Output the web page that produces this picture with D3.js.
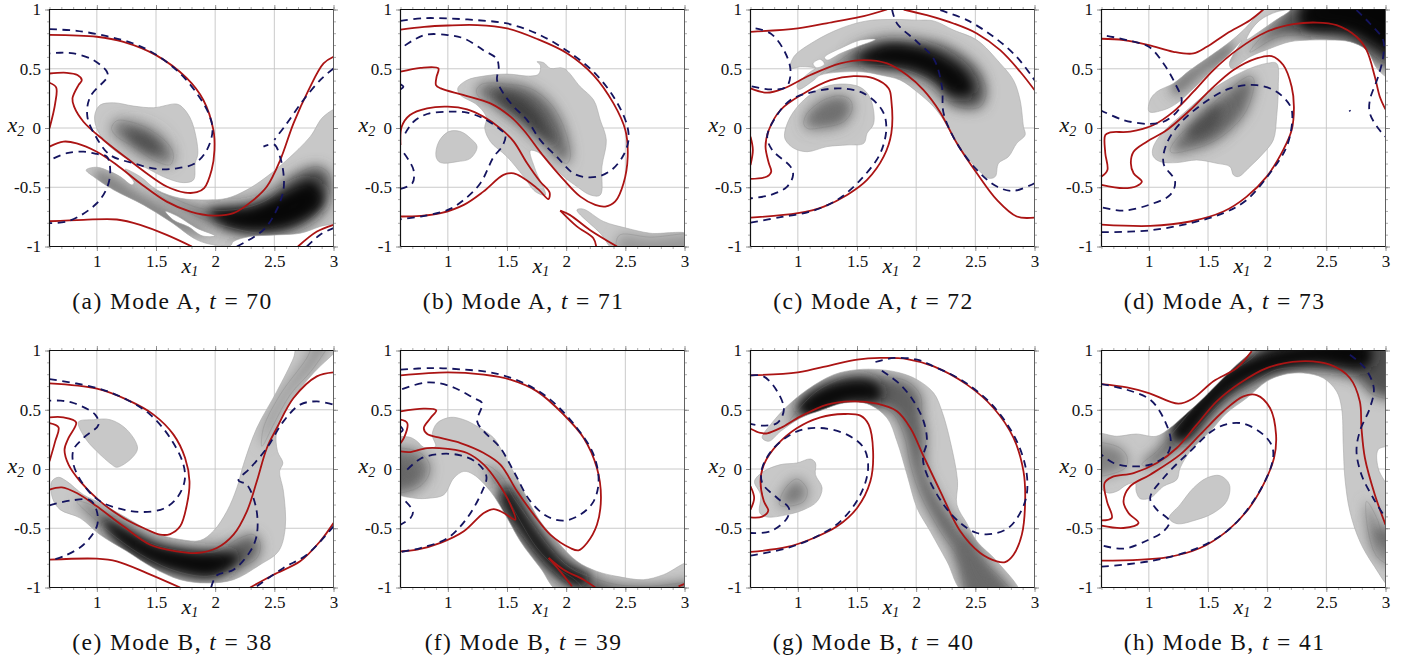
<!DOCTYPE html>
<html>
<head>
<meta charset="utf-8">
<script src="https://cdn.jsdelivr.net/npm/d3@7"></script>
<style>
	html, body { margin: 0; padding: 0; background: #fff; }
	svg { display: block; }
	text { font-family: 'Liberation Serif', serif; fill: #111; }
</style>
</head>
<body>
<div id="chart"></div>
<script>
// Axis values
const xMajor = [1, 1.5, 2, 2.5, 3]
const yMajor = [-1, -0.5, 0, 0.5, 1]
const xMinor = d3.range(6, 31).map((d) => d / 10)
const yMinor = d3.range(-10, 11).map((d) => d / 10)

// (a) Mode A, t = 70
const redA70 = [
	[[.6,.786],[1,.77],[1.225,.727],[1.5,.615],[1.76,.42],[1.9,.236],[1.985,-.017],[1.994,-.185],[1.97,-.354],[1.907,-.508],[1.845,-.542],[1.746,-.545],[1.59,-.494],[1.42,-.382],[1.254,-.256],[1.056,-.101],[.887,.053],[.808,.18],[.794,.25],[.845,.362],[.873,.404],[.836,.447],[.746,.466],[.6,.46]],
	[[.6,.382],[.656,.343],[.648,.208],[.6,-.003]],
	[[.6,-.157],[.718,-.115],[.83,-.129],[1,-.2],[1.169,-.312],[1.366,-.466],[1.59,-.621],[1.79,-.705],[1.986,-.739],[2.155,-.719],[2.324,-.607],[2.437,-.494],[2.55,-.27],[2.662,.039],[2.789,.32],[2.916,.545],[3,.601]],
	[[.6,-.787],[.887,-.775],[1.169,-.772],[1.366,-.817],[1.59,-.902],[1.803,-1]],
	[[2.7,-1],[2.86,-.874],[3,-.817]],
]
const blueA70 = [
	[[.6,.834],[.83,.82],[1.085,.775],[1.31,.713],[1.507,.615],[1.704,.46],[1.845,.292],[1.944,.124],[1.978,-.017],[1.93,-.185],[1.83,-.298],[1.676,-.34],[1.507,-.346],[1.31,-.298],[1.113,-.228],[1,-.087],[.92,.096],[.944,.264],[1.09,.433],[1.085,.475],[.972,.573],[.803,.629],[.69,.635],[.6,.629]],
	[[.634,-.256],[.746,-.213],[.887,-.2],[1,-.219],[1.085,-.242],[1.113,-.354],[1.09,-.494],[1,-.635],[.775,-.781],[.6,-.803]],
	[[2.183,-1],[2.408,-.86],[2.52,-.69],[2.577,-.522],[2.577,-.382],[2.55,-.25],[2.5,-.14],[2.408,-.157]],
	[[3,.503],[2.887,.404],[2.746,.236],[2.606,.039],[2.5,-.1]],
	[[2.775,-1],[2.887,-.9],[3,-.845]],
]
const edgeA70 = [
	[[.986,.124],[1.028,.194],[1.141,.213],[1.31,.185],[1.479,.171],[1.676,.202],[1.732,.166],[1.803,.053],[1.854,-.213],[1.831,-.298],[1.817,-.438],[1.732,-.461],[1.592,-.424],[1.423,-.34],[1.225,-.242],[1.056,-.101],[.986,.039]],
	[[.91,-.354],[1,-.331],[1.113,-.368],[1.197,-.41],[1.296,-.48],[1.315,-.461],[1.268,-.396],[1.239,-.348],[1.366,-.41],[1.507,-.522],[1.704,-.593],[1.93,-.607],[2.099,-.593],[2.268,-.522],[2.437,-.41],[2.606,-.27],[2.803,-.073],[2.915,.096],[3.05,.16],[3.05,-.77],[2.887,-.831],[2.718,-.888],[2.521,-.902],[2.296,-.916],[2.155,-.958],[2.127,-.994],[1.986,-.986],[1.845,-.944],[1.62,-.789],[1.394,-.649],[1.141,-.522],[.972,-.41]],
]
const holeA70 = [
	[[1.58,-.704],[1.676,-.741],[1.845,-.845],[2,-.91],[1.89,-.91],[1.775,-.834],[1.648,-.777]],
]
const midA70 = [
	[.32, [[1.127,.011],[1.169,.062],[1.31,.045],[1.479,-.031],[1.62,-.157],[1.648,-.242],[1.62,-.31],[1.479,-.27],[1.31,-.157],[1.169,-.073],[1.127,-.017]]],
	[.5, [[1.49,-.53],[1.873,-.677],[2.155,-.69],[2.437,-.607],[2.662,-.41],[2.859,-.326],[2.958,-.382],[2.958,-.579],[2.831,-.747],[2.634,-.86],[2.38,-.888],[2.099,-.833],[1.873,-.76],[1.592,-.607]]],
]
const coreA70 = [
	[.55, [[1.25,-.02],[1.45,-.08],[1.55,-.2],[1.45,-.2],[1.3,-.11]]],
	[1, [[1.95,-.7],[2.3,-.68],[2.6,-.56],[2.82,-.46],[2.9,-.63],[2.7,-.78],[2.4,-.85],[2.1,-.82]]],
	[.3, [[1,-.36],[1.35,-.56],[1.7,-.76],[1.95,-.9],[1.7,-.86],[1.35,-.66],[1,-.44]]],
]

// (b) Mode A, t = 71
const redA71 = [
	[[.6,.83],[.8,.854],[1,.865],[1.25,.868],[1.5,.84],[1.75,.753],[2.01,.629],[2.23,.447],[2.4,.208],[2.5,-.017],[2.52,-.24],[2.485,-.466],[2.415,-.62],[2.33,-.663],[2.246,-.649],[2.12,-.579],[1.98,-.438],[1.81,-.24],[1.64,-.017],[1.53,.096],[1.36,.208],[1.135,.278],[.94,.334],[.9,.362],[.905,.433],[.92,.503],[.77,.508],[.6,.475]],
	[[.6,-.143],[.61,.011],[.68,.11],[.825,.166],[1,.18],[1.163,.157],[1.3,.096],[1.444,-.003],[1.557,-.115],[1.67,-.298],[1.78,-.452],[1.86,-.545],[1.85,-.6],[1.77,-.522],[1.64,-.424],[1.557,-.382],[1.47,-.396],[1.3,-.537],[1.135,-.649],[.94,-.719],[.77,-.742],[.6,-.747]],
	[[1.95,-.697],[2.03,-.733],[2.2,-.86],[2.43,-1]],
	[[1.95,-.697],[2.09,-.83],[2.23,-.93],[2.254,-1]],
]
const blueA71 = [
	[[.6,.904],[.8,.927],[1,.924],[1.25,.91],[1.5,.882],[1.75,.798],[2,.657],[2.23,.475],[2.4,.264],[2.51,.039],[2.527,-.1],[2.485,-.228],[2.4,-.34],[2.29,-.404],[2.175,-.416],[2.06,-.382],[1.92,-.242],[1.78,-.1],[1.67,.067],[1.557,.18],[1.47,.292],[1.416,.404],[1.43,.517],[1.41,.587],[1.3,.657],[1.135,.756],[1,.784],[.825,.789],[.71,.742],[.6,.67]],
	[[.6,.37],[.625,.348],[.6,.326]],
	[[.64,-.045],[.71,.053],[.825,.118],[1,.138],[1.163,.129],[1.3,.081],[1.43,-.003],[1.487,-.059],[1.458,-.157],[1.388,-.242],[1.275,-.466],[1.135,-.607],[1,-.691],[.77,-.747],[.6,-.77]],
	[[.63,-.213],[.71,-.354],[.7,-.466],[.6,-.514]],
]
const edgeA71 = [
	[[1.084,.334],[1.163,.404],[1.304,.438],[1.5,.455],[1.697,.438],[1.768,.455],[1.782,.531],[1.754,.559],[1.81,.551],[1.866,.503],[1.979,.503],[2.119,.348],[2.232,.236],[2.288,.067],[2.339,-.101],[2.302,-.326],[2.288,-.565],[2.204,-.565],[2.091,-.494],[1.979,-.41],[1.866,-.298],[1.754,-.2],[1.697,-.191],[1.74,-.354],[1.824,-.565],[1.74,-.537],[1.641,-.41],[1.5,-.242],[1.36,-.115],[1.312,-.003],[1.326,.09],[1.247,.194],[1.107,.278]],
	[[.9,-.242],[.924,-.115],[1.008,-.03],[1.107,-.03],[1.191,-.087],[1.247,-.157],[1.191,-.256],[1.079,-.284],[.938,-.292]],
	[[2.091,-.691],[2.147,-.685],[2.316,-.789],[2.513,-.846],[2.71,-.888],[3.05,-.902],[3.05,-1.05],[2.43,-1.05],[2.288,-.888]],
]
const holeA71 = []
const midA71 = [
	[.36, [[1.242,.32],[1.29,.371],[1.5,.371],[1.697,.334],[1.866,.208],[1.979,.011],[2.035,-.242],[2.007,-.298],[1.922,-.256],[1.782,-.1],[1.641,.039],[1.5,.152],[1.36,.222],[1.262,.264]]],
	[.15, [[2.443,-.91],[2.71,-.921],[3.15,-.916],[3.15,-1.15],[2.47,-1.15]]],
]
const coreA71 = [
	[.65, [[1.38,.3],[1.55,.28],[1.72,.17],[1.85,-.02],[1.9,-.12],[1.78,-.05],[1.62,.08],[1.45,.2]]],
]

// (c) Mode A, t = 72
const redA72 = [
	[[.6,.812],[1,.84],[1.304,.896],[1.557,.944],[1.754,1]],
	[[1.894,1],[2.09,.952],[2.316,.882],[2.513,.798],[2.71,.657],[2.879,.475],[3,.32]],
	[[.6,.334],[.74,.298],[.88,.334],[1.107,.447],[1.36,.545],[1.557,.573],[1.754,.545],[1.922,.447],[2.063,.32],[2.2,.138],[2.344,-.129],[2.513,-.382],[2.682,-.607],[2.85,-.747],[3,-.756]],
	[[.6,-.756],[1,-.719],[1.22,-.663],[1.416,-.565],[1.585,-.438],[1.725,-.242],[1.79,-.045],[1.79,.236],[1.768,.334],[1.641,.419],[1.472,.438],[1.276,.404],[1.05,.292],[.854,.152],[.755,-.017],[.727,-.157],[.755,-.298],[.775,-.368],[.74,-.41],[.6,-.43]],
	[[.6,-.073],[.62,-.185],[.6,-.312]],
]
const blueA72 = [
	[[2.204,.994],[2.43,.91],[2.654,.77],[2.85,.6],[3,.404]],
	[[1.796,1],[1.838,.882],[2.007,.728],[2.147,.587],[2.218,.348],[2.232,.124],[2.344,-.129],[2.513,-.354],[2.682,-.494],[2.822,-.531],[3,-.466]],
	[[.643,.84],[.77,.798],[.882,.657],[.938,.489],[.904,.348],[.77,.326],[.6,.354]],
	[[.6,-.798],[.854,-.753],[1.107,-.705],[1.332,-.607],[1.529,-.438],[1.697,-.213],[1.748,.011],[1.711,.152],[1.557,.292],[1.36,.334],[1.135,.306],[.938,.236],[.798,.067],[.741,-.073],[.783,-.185],[.938,-.326],[.96,-.396],[.91,-.494],[.77,-.565],[.6,-.593]],
]
const edgeA72 = [
	[[.938,.503],[.966,.601],[1.135,.728],[1.36,.84],[1.585,.904],[1.81,.916],[2.007,.91],[2.147,.904],[2.316,.826],[2.513,.742],[2.71,.545],[2.822,.404],[2.878,.236],[2.907,.011],[2.921,-.059],[2.85,-.129],[2.78,-.242],[2.696,-.298],[2.668,-.41],[2.611,-.424],[2.513,-.34],[2.344,-.129],[2.232,.067],[2.147,.18],[2.007,.306],[1.866,.404],[1.697,.447],[1.529,.475],[1.191,.447],[1.135,.404],[1.008,.326],[.994,.362],[1.107,.475],[1.149,.503],[1.022,.517]],
	[[.888,-.045],[.938,.096],[1.05,.236],[1.191,.334],[1.36,.371],[1.529,.343],[1.613,.25],[1.641,.039],[1.585,-.045],[1.557,-.129],[1.416,-.143],[1.247,-.157],[1.079,-.2],[.966,-.171],[.896,-.101]],
]
const holeA72 = [
	[[1.655,.747],[1.529,.742],[1.388,.685],[1.225,.596],[1.247,.573],[1.36,.629],[1.5,.685]],
	[[1.129,.545],[1.191,.579],[1.225,.539],[1.157,.508]],
]
const midA72 = [
	[.48, [[1.191,.447],[1.36,.573],[1.529,.685],[1.726,.736],[1.979,.728],[2.204,.7],[2.4,.601],[2.541,.461],[2.591,.292],[2.541,.18],[2.4,.166],[2.288,.208],[2.147,.379],[1.866,.503],[1.585,.531],[1.36,.503]]],
	[.3, [[1.05,.039],[1.079,.124],[1.219,.236],[1.36,.272],[1.444,.236],[1.458,.152],[1.388,.053],[1.219,.006],[1.079,-.003]]],
]
const coreA72 = [
	[1, [[1.5,.58],[1.75,.69],[2,.67],[2.2,.6],[2.42,.44],[2.47,.3],[2.3,.3],[2.15,.43],[1.95,.51],[1.7,.53]]],
	[.35, [[1.13,.06],[1.25,.18],[1.38,.2],[1.36,.08],[1.22,.05]]],
]

// (d) Mode A, t = 73
const redA73 = [
	[[.6,.753],[.786,.742],[1,.7],[1.208,.643],[1.377,.629],[1.49,.685],[1.659,.798],[1.855,.91],[1.968,1]],
	[[.6,-.41],[.65,-.354],[.632,-.213],[.632,-.059],[.674,-.037],[.843,-.031],[1.039,.025],[1.208,.138],[1.377,.306],[1.546,.489],[1.743,.657],[1.996,.812],[2.22,.876],[2.418,.89],[2.587,.868],[2.755,.77],[2.84,.657],[2.91,.433],[2.952,.264],[3,.157]],
	[[.6,-.48],[.786,-.508],[.899,-.489],[.941,-.452],[.871,-.382],[.848,-.298],[.871,-.2],[.983,-.115],[1.152,-.017],[1.349,.152],[1.518,.32],[1.715,.489],[1.911,.587],[2.038,.607],[2.136,.531],[2.207,.348],[2.226,.18],[2.207,-.017],[2.136,-.185],[1.996,-.41],[1.827,-.579],[1.63,-.705],[1.349,-.789],[1.011,-.826],[.6,-.815]],
]
const blueA73 = [
	[[.645,.778],[.814,.742],[1,.685],[1.124,.545],[1.222,.376],[1.278,.236],[1.25,.152],[1.124,.053],[1,.034],[.786,.067],[.6,.146]],
	[[.6,-.879],[1,-.865],[1.349,-.803],[1.63,-.719],[1.827,-.607],[2.023,-.382],[2.165,-.157],[2.212,.067],[2.198,.18],[2.08,.306],[1.911,.362],[1.686,.334],[1.461,.208],[1.264,.039],[1.152,-.129],[1.124,-.298],[1.222,-.452],[1.18,-.565],[1,-.649],[.786,-.697],[.6,-.669]],
	[[2.755,.994],[2.868,.882],[2.98,.742],[2.98,.601],[2.938,.433],[2.868,.236],[2.868,.124],[2.938,-.003],[3,-.073]],
	[[2.695,.15],[2.703,.14]],
]
const edgeA73 = [
	[[1.003,.138],[1.011,.236],[1.068,.306],[1.208,.376],[1.349,.489],[1.49,.587],[1.686,.728],[1.799,.826],[1.94,.98],[1.996,1.05],[3.05,1.05],[3.05,.42],[2.938,.489],[2.84,.657],[2.699,.728],[2.53,.742],[2.361,.742],[2.193,.728],[2.024,.671],[1.855,.601],[1.7,.503],[1.681,.545],[1.785,.736],[1.7,.643],[1.546,.503],[1.377,.334],[1.236,.208],[1.124,.152]],
	[[1.031,-.185],[1.068,-.101],[1.152,-.003],[1.293,.124],[1.49,.292],[1.686,.419],[1.855,.503],[1.996,.545],[2.08,.545],[2.094,.348],[2.08,.096],[2.052,-.101],[1.968,-.213],[1.855,-.326],[1.757,-.41],[1.715,-.396],[1.686,-.326],[1.574,-.298],[1.405,-.27],[1.236,-.292],[1.096,-.284],[1.039,-.242]],
]
const holeA73 = [
	[[1.855,.812],[1.94,.91],[2.08,.98],[2.193,.994],[2.052,.896],[1.911,.798],[1.827,.747]],
]
const midA73 = [
	[.5, [[1.855,.64],[2.08,.764],[2.305,.784],[2.502,.77],[2.727,.713],[2.84,.615],[3.15,.5],[3.15,1.15],[2.4,1.15],[2.08,.9]]],
	[.38, [[1.18,-.185],[1.25,-.073],[1.405,.067],[1.574,.236],[1.855,.438],[1.889,.404],[1.827,.152],[1.686,-.017],[1.518,-.129],[1.349,-.185],[1.194,-.208]]],
]
const coreA73 = [
	[1, [[2.3,.86],[2.7,.82],[2.92,.7],[3.15,.58],[3.15,1.15],[2.5,1.15],[2.3,1]]],
	[.55, [[1.32,-.06],[1.49,.124],[1.6,.194],[1.574,.039],[1.405,-.073]]],
	[.35, [[1.2,.35],[1.45,.55],[1.7,.72],[1.7,.64],[1.45,.46],[1.22,.28]]],
]

// (e) Mode B, t = 38
const redB38 = [
	[[.6,.723],[1,.678],[1.254,.585],[1.479,.459],[1.648,.29],[1.746,.093],[1.783,-.104],[1.761,-.301],[1.704,-.484],[1.62,-.549],[1.535,-.554],[1.394,-.498],[1.225,-.413],[1.028,-.273],[.859,-.104],[.761,.037],[.727,.163],[.761,.262],[.825,.394],[.718,.436],[.6,.436]],
	[[.6,.388],[.676,.352],[.648,.233],[.6,.065]],
	[[.6,-.174],[.704,-.155],[.831,-.203],[1,-.315],[1.225,-.484],[1.451,-.639],[1.676,-.695],[1.845,-.709],[2.014,-.667],[2.155,-.554],[2.268,-.357],[2.352,-.104],[2.437,.177],[2.521,.346],[2.662,.599],[2.859,.782],[3,.816]],
	[[.6,-.765],[1,-.757],[1.169,-.779],[1.423,-.878],[1.704,-1]],
	[[2.296,-1],[2.493,-.892],[2.718,-.779],[2.887,-.61],[3,-.456]],
]
const blueB38 = [
	[[.6,.759],[1,.684],[1.254,.585],[1.451,.459],[1.62,.262],[1.732,.037],[1.741,-.104],[1.676,-.245],[1.563,-.335],[1.394,-.363],[1.225,-.343],[1.028,-.273],[.887,-.132],[.803,.037],[.803,.163],[.887,.262],[1.014,.374],[.986,.459],[.803,.557],[.69,.577],[.6,.577]],
	[[.6,-.307],[.775,-.267],[.944,-.264],[1,-.357],[1,-.484],[.887,-.639],[.718,-.737],[.6,-.774]],
	[[1.966,-1],[2.014,-.897],[2.155,-.85],[2.296,-.695],[2.352,-.554],[2.346,-.329],[2.268,-.132],[2.197,-.096],[2.296,.008],[2.437,.177],[2.577,.402],[2.718,.543],[2.859,.571],[3,.543]],
	[[2.352,-.99],[2.577,-.835],[2.775,-.723],[3,-.484]],
]
const edgeB38 = [
	[[.845,.397],[.972,.416],[1.113,.416],[1.254,.332],[1.344,.177],[1.296,.093],[1.169,.014],[1.127,.037],[1,.149],[.901,.262]],
	[[.62,-.104],[.676,-.07],[.746,-.104],[.887,-.217],[1.028,-.287],[1.254,-.413],[1.479,-.538],[1.704,-.595],[1.873,-.603],[1.986,-.523],[2.099,-.357],[2.183,-.16],[2.239,.037],[2.352,.346],[2.521,.655],[2.662,.937],[2.7,1.05],[3.05,1.05],[3.05,1.03],[2.831,.81],[2.662,.599],[2.521,.318],[2.527,.149],[2.572,.051],[2.544,-.02],[2.577,-.188],[2.592,-.498],[2.535,-.695],[2.38,-.807],[2.155,-.934],[1.93,-.962],[1.704,-.934],[1.479,-.836],[1.254,-.695],[1.028,-.555],[.859,-.414],[.69,-.343],[.625,-.245]],
]
const holeB38 = []
const midB38 = [
	[.42, [[.831,-.273],[.944,-.301],[1.169,-.456],[1.451,-.625],[1.761,-.695],[2.014,-.695],[2.211,-.582],[2.324,-.554],[2.38,-.624],[2.352,-.75],[2.155,-.85],[1.93,-.906],[1.676,-.864],[1.423,-.751],[1.169,-.582],[.972,-.414]]],
	[.2, [[2.394,.191],[2.408,.346],[2.549,.627],[2.775,.937],[2.859,1.1],[2.972,1.1],[2.831,.852],[2.634,.627],[2.493,.374],[2.408,.205]]],
]
const coreB38 = [
	[1, [[1.05,-.42],[1.3,-.55],[1.5,-.65],[1.8,-.71],[2.2,-.74],[2,-.89],[1.7,-.86],[1.42,-.77],[1.15,-.58]]],
]

// (f) Mode B, t = 39
const redB39 = [
	[[.6,.79],[1,.816],[1.304,.796],[1.529,.754],[1.754,.655],[1.979,.459],[2.148,.262],[2.26,.008],[2.294,-.245],[2.26,-.47],[2.176,-.624],[2.105,-.686],[2.035,-.667],[1.866,-.554],[1.726,-.385],[1.585,-.188],[1.444,.037],[1.304,.135],[1.107,.219],[.938,.262],[.826,.295],[.797,.346],[.854,.43],[.902,.495],[.797,.509],[.6,.487]],
	[[.6,.416],[.657,.388],[.629,.262],[.6,.219]],
	[[.6,.149],[.682,.143],[.826,.177],[1,.169],[1.163,.135],[1.304,.037],[1.416,-.104],[1.529,-.301],[1.571,-.428],[1.473,-.371],[1.388,-.338],[1.304,-.371],[1.135,-.526],[.938,-.624],[.741,-.681],[.6,-.695]],
	[[1.852,-.751],[1.979,-.85],[2.148,-.934],[2.246,-1]],
	[[1.852,-.751],[1.95,-.864],[2.049,-.99]],
	[[2.95,-.99],[3,-.97]],
]
const blueB39 = [
	[[.6,.838],[.854,.852],[1.107,.841],[1.388,.81],[1.641,.726],[1.866,.585],[2.091,.346],[2.232,.121],[2.274,-.104],[2.232,-.273],[2.12,-.385],[1.979,-.436],[1.838,-.399],[1.698,-.273],[1.557,-.02],[1.444,.177],[1.304,.318],[1.248,.402],[1.29,.557],[1.219,.599],[1.023,.698],[.826,.731],[.6,.669]],
	[[.657,-.006],[.769,.087],[.938,.127],[1.107,.115],[1.248,.051],[1.326,-.062],[1.29,-.188],[1.163,-.413],[1,-.582],[.769,-.667],[.6,-.7]],
	[[.643,-.273],[.705,-.357],[.685,-.413],[.6,-.47]],
	[[.6,.36],[.62,.33],[.6,.31]],
]
const edgeB39 = [
	[[.55,-.188],[.55,.248],[.671,.27],[.741,.233],[.797,.183],[.896,.191],[.868,.29],[.91,.388],[1.023,.436],[1.135,.416],[1.248,.36],[1.388,.262],[1.444,.177],[1.529,.023],[1.613,-.132],[1.698,-.301],[1.782,-.442],[1.923,-.61],[2.091,-.779],[2.26,-.864],[2.429,-.906],[2.654,-.934],[2.823,-.892],[3.05,-.79],[3.05,-1.05],[1.96,-1.05],[1.782,-.835],[1.613,-.61],[1.501,-.413],[1.36,-.188],[1.219,-.048],[1.135,-.02],[1.051,-.076],[.966,-.217],[.854,-.245],[.713,-.245]],
]
const holeB39 = []
const midB39 = [
	[.32, [[.45,.149],[.741,.149],[.84,.051],[.84,-.048],[.741,-.16],[.45,-.188]]],
	[.42, [[1.318,.037],[1.444,-.048],[1.557,-.245],[1.698,-.442],[1.866,-.667],[2.035,-.835],[2.232,-.92],[2.429,-.976],[2.71,-.99],[3.15,-.976],[3.15,-1.15],[2.26,-1.15],[2.091,-.948],[1.923,-.835],[1.754,-.667],[1.613,-.442],[1.501,-.245],[1.388,-.104]]],
]
const coreB39 = [
	[.9, [[1.5,-.15],[1.72,-.48],[1.97,-.78],[2.2,-.92],[2.1,-1],[1.88,-.86],[1.62,-.55],[1.44,-.25]]],
	[.4, [[.45,.05],[.7,.02],[.72,-.08],[.45,-.14]]],
]

// (g) Mode B, t = 40
const redB40 = [
	[[.6,.79],[1,.816],[1.276,.875],[1.501,.923],[1.698,.937],[1.923,.928],[2.148,.866],[2.429,.712],[2.654,.515],[2.823,.262],[2.907,-.02],[2.921,-.273],[2.893,-.554],[2.823,-.723],[2.752,-.785],[2.682,-.779],[2.541,-.709],[2.373,-.526],[2.204,-.188],[2.063,.107],[1.951,.346],[1.838,.487],[1.67,.551],[1.444,.571],[1.248,.543],[1.023,.444],[.854,.346],[.741,.301],[.685,.304],[.6,.34]],
	[[.6,-.408],[.699,-.402],[.75,-.352],[.713,-.273],[.685,-.104],[.713,.037],[.826,.205],[.994,.346],[1.191,.436],[1.388,.464],[1.529,.45],[1.599,.374],[1.636,.149],[1.613,-.104],[1.501,-.329],[1.332,-.484],[1.135,-.582],[.91,-.658],[.6,-.7]],
	[[.6,-.146],[.631,-.245],[.6,-.343]],
]
const blueB40 = [
	[[1.656,.903],[1.81,.937],[2.007,.923],[2.148,.866],[2.401,.739],[2.654,.528],[2.851,.233],[2.935,-.048],[2.921,-.273],[2.795,-.484],[2.654,-.546],[2.513,-.54],[2.373,-.456],[2.232,-.301],[2.091,-.048],[2.057,.093],[2.091,.233],[2.063,.402],[1.979,.571],[1.866,.712],[1.698,.837]],
	[[.6,.79],[.71,.782],[.826,.655],[.882,.501],[.826,.388],[.713,.366],[.6,.38]],
	[[.6,-.731],[.91,-.667],[1.163,-.568],[1.36,-.442],[1.529,-.217],[1.594,.008],[1.557,.177],[1.416,.29],[1.191,.346],[.994,.318],[.797,.177],[.699,.008],[.699,-.118],[.826,-.245],[.924,-.329],[.91,-.413],[.769,-.526],[.6,-.54]],
]
const edgeB40 = [
	[[.699,.264],[.783,.391],[.91,.529],[1.079,.669],[1.304,.796],[1.501,.838],[1.698,.838],[1.866,.81],[2.007,.754],[2.148,.641],[2.218,.487],[2.288,.234],[2.35,-.104],[2.344,-.301],[2.429,-.461],[2.513,-.61],[2.682,-.779],[2.87,-1.05],[2.41,-1.05],[2.26,-.779],[2.119,-.526],[2.007,-.329],[1.923,-.048],[1.838,.234],[1.754,.431],[1.585,.551],[1.388,.557],[1.191,.493],[1.023,.431],[.854,.318],[.755,.234]],
	[[.634,-.104],[.713,-.02],[.854,.037],[.994,.051],[1.107,.084],[1.149,.051],[1.149,-.048],[1.205,-.16],[1.163,-.273],[1.051,-.343],[.91,-.385],[.741,-.405],[.679,-.371],[.685,-.217]],
]
const holeB40 = []
const midB40 = [
	[.42, [[.924,.388],[1.163,.658],[1.444,.781],[1.698,.781],[1.923,.74],[2.035,.624],[2.049,.458],[2.077,.29],[2.077,.008],[2.176,-.217],[2.344,-.47],[2.541,-.751],[2.738,-.948],[2.85,-1.1],[2.45,-1.1],[2.373,-.781],[2.204,-.526],[2.035,-.217],[1.951,.037],[1.895,.29],[1.782,.487],[1.501,.543],[1.248,.515],[1.023,.431]]],
	[.3, [[.845,-.301],[.896,-.16],[.994,-.084],[1.079,-.174],[1.051,-.273],[.91,-.315]]],
]
const coreB40 = [
	[1, [[1,.53],[1.3,.71],[1.65,.72],[1.7,.6],[1.4,.57],[1.1,.45]]],
	[.38, [[2.4,-.55],[2.6,-.85],[2.75,-1.1],[2.55,-1.1],[2.35,-.7]]],
]

// (h) Mode B, t = 41
const redB41 = [
	[[.6,.717],[.814,.689],[1,.641],[1.25,.551],[1.377,.599],[1.546,.74],[1.743,.852],[1.869,.993]],
	[[.6,-.433],[.687,-.413],[.646,-.273],[.626,-.118],[.688,-.068],[.871,-.034],[1.068,.051],[1.236,.177],[1.405,.374],[1.574,.571],[1.771,.726],[1.996,.852],[2.277,.909],[2.53,.88],[2.699,.768],[2.783,.571],[2.797,.346],[2.826,.093],[2.91,-.217],[3,-.47]],
	[[.6,-.478],[.786,-.498],[.913,-.456],[.828,-.371],[.786,-.273],[.842,-.146],[1.011,-.048],[1.264,.121],[1.433,.29],[1.63,.487],[1.799,.613],[1.911,.624],[2.024,.515],[2.075,.29],[2.058,.093],[1.968,-.132],[1.827,-.357],[1.658,-.526],[1.433,-.667],[1.152,-.745],[.6,-.774]],
]
const blueB41 = [
	[[.6,.717],[.814,.669],[1.011,.585],[1.124,.43],[1.186,.233],[1.152,.121],[1.011,.037],[.842,.023],[.702,.051],[.6,.121]],
	[[.6,-.824],[1,-.779],[1.377,-.681],[1.658,-.526],[1.883,-.273],[2.038,.037],[2.046,.177],[1.968,.29],[1.771,.388],[1.574,.346],[1.349,.149],[1.124,-.076],[1.011,-.245],[1.068,-.343],[1.174,-.442],[1.124,-.526],[1,-.596],[.786,-.672],[.6,-.644]],
	[[2.699,.965],[2.826,.852],[2.901,.684],[2.868,.515],[2.783,.318],[2.755,.149],[2.797,-.048],[2.896,-.245],[3,-.413]],
]
const edgeB41 = [
	[[.55,.29],[.73,.276],[.893,.295],[1.062,.276],[1.179,.346],[1.292,.444],[1.433,.571],[1.574,.712],[1.743,.88],[1.855,.979],[1.911,1.05],[3.05,1.05],[3.05,.219],[2.938,.163],[2.938,.008],[3.05,-.23],[3.05,-1],[2.896,-.807],[2.783,-.61],[2.699,-.357],[2.657,-.076],[2.643,.205],[2.629,.515],[2.587,.655],[2.474,.768],[2.305,.81],[2.136,.796],[1.996,.74],[1.827,.599],[1.658,.473],[1.518,.318],[1.349,.149],[1.264,.008],[1.236,-.09],[1.124,-.146],[1.011,-.245],[.927,-.25],[.893,-.188],[.885,-.118],[.814,-.132],[.73,-.188],[.646,-.2],[.55,-.09]],
	[[1.172,-.413],[1.264,-.301],[1.377,-.16],[1.489,-.076],[1.602,-.056],[1.681,-.132],[1.658,-.273],[1.546,-.371],[1.405,-.428],[1.236,-.461]],
]
const holeB41 = []
const midB41 = [
	[.5, [[.941,.037],[1.068,.149],[1.236,.346],[1.405,.543],[1.63,.768],[1.855,.923],[2.08,1.1],[3.15,1.1],[3.15,.613],[2.896,.627],[2.755,.768],[2.587,.824],[2.305,.852],[2.08,.838],[1.855,.712],[1.63,.571],[1.405,.346],[1.208,.163],[1.011,.023]]],
	[.25, [[.45,.205],[.73,.191],[.814,.107],[.8,.008],[.45,-.05]]],
	[.25, [[2.84,-.273],[2.938,-.442],[2.994,-.667],[3.15,-.85],[2.938,-.751],[2.854,-.526]]],
]
const coreB41 = [
	[1, [[1.2,.3],[1.48,.66],[1.68,.84],[2,.97],[2.4,1.05],[2.85,1.05],[2.85,.88],[2.4,.9],[2,.82],[1.7,.68],[1.5,.48],[1.3,.24]]],
	[.4, [[2.93,-.5],[3.15,-.6],[3.15,-.75],[2.93,-.6]]],
]

const captionTags = ['(a)', '(b)', '(c)', '(d)', '(e)', '(f)', '(g)', '(h)']
const captionModes = ['Mode A', 'Mode A', 'Mode A', 'Mode A', 'Mode B', 'Mode B', 'Mode B', 'Mode B']
const captionTimes = [70, 71, 72, 73, 38, 39, 40, 41]

const reds = [redA70, redA71, redA72, redA73, redB38, redB39, redB40, redB41]
const blues = [blueA70, blueA71, blueA72, blueA73, blueB38, blueB39, blueB40, blueB41]
const edges = [edgeA70, edgeA71, edgeA72, edgeA73, edgeB38, edgeB39, edgeB40, edgeB41]
const holes = [holeA70, holeA71, holeA72, holeA73, holeB38, holeB39, holeB40, holeB41]
const mids = [midA70, midA71, midA72, midA73, midB38, midB39, midB40, midB41]
const cores = [coreA70, coreA71, coreA72, coreA73, coreB38, coreB39, coreB40, coreB41]

// Layout of the grid of panels
const panelLeft = [49.5, 400.5, 750.5, 1101.5]
const panelTop = [9.5, 350.5]
const panelWidth = 284
const panelHeight = 237

const x = d3.scaleLinear().domain([0.6, 3]).range([0, panelWidth])
const y = d3.scaleLinear().domain([-1, 1]).range([panelHeight, 0])
const shade = d3.scalePow().exponent(0.75).domain([0, 1]).range(['#c8c8c8', '#000000'])

const openLine = d3.line().x((d) => x(d[0])).y((d) => y(d[1])).curve(d3.curveCatmullRom.alpha(0.5))
const closedLine = d3.line().x((d) => x(d[0])).y((d) => y(d[1])).curve(d3.curveCatmullRomClosed.alpha(0.5))

const svg = d3.select('#chart').append('svg').attr('width', 1411).attr('height', 659)
const defs = svg.append('defs')

function addBlur(id, amount) {
	defs.append('filter').attr('id', id)
		.attr('x', '-80%').attr('y', '-80%').attr('width', '260%').attr('height', '260%')
		.append('feGaussianBlur').attr('stdDeviation', amount)
}
addBlur('softWide', 11)
addBlur('softMid', 6.5)
addBlur('softCore', 5)

function drawPanel(i) {
	const g = svg.append('g')
		.attr('transform', `translate(${panelLeft[i % 4]},${panelTop[Math.floor(i / 4)]})`)

	defs.append('clipPath').attr('id', `plot${i}`)
		.append('rect').attr('width', panelWidth).attr('height', panelHeight)

	const fieldPath = edges[i].concat(holes[i]).map((p) => closedLine(p)).join('')
	defs.append('clipPath').attr('id', `field${i}`)
		.append('path').attr('d', fieldPath).attr('clip-rule', 'evenodd')

	// grid
	g.append('g').selectAll('line').data(xMajor).enter().append('line')
		.attr('x1', (d) => x(d)).attr('x2', (d) => x(d))
		.attr('y1', 0).attr('y2', panelHeight)
		.attr('stroke', '#c4c4c4').attr('stroke-width', 0.9)
	g.append('g').selectAll('line').data(yMajor).enter().append('line')
		.attr('x1', 0).attr('x2', panelWidth)
		.attr('y1', (d) => y(d)).attr('y2', (d) => y(d))
		.attr('stroke', '#c4c4c4').attr('stroke-width', 0.9)

	const plot = g.append('g').attr('clip-path', `url(#plot${i})`)

	// shaded field, soft levels clipped to its outer contour
	const field = plot.append('g').attr('clip-path', `url(#field${i})`)
	field.append('rect').attr('width', panelWidth).attr('height', panelHeight).attr('fill', shade(0))
	field.append('g').attr('filter', 'url(#softMid)')
		.selectAll('path').data(mids[i]).enter().append('path')
		.attr('d', (d) => closedLine(d[1]))
		.attr('fill', (d) => shade(d[0]))
	field.append('g').attr('filter', 'url(#softWide)')
		.selectAll('path').data(cores[i]).enter().append('path')
		.attr('d', (d) => closedLine(d[1]))
		.attr('fill', (d) => shade(d[0] * 0.8))
	field.append('g').attr('filter', 'url(#softCore)').attr('opacity', 0.8)
		.selectAll('path').data(cores[i]).enter().append('path')
		.attr('d', (d) => closedLine(d[1]))
		.attr('fill', (d) => shade(d[0]))
	field.append('g').selectAll('path').data(mids[i]).enter().append('path')
		.attr('d', (d) => closedLine(d[1]))
		.attr('fill', 'none').attr('stroke', '#777').attr('stroke-opacity', 0.45).attr('stroke-width', 0.6)

	plot.append('path').attr('d', fieldPath)
		.attr('fill', 'none').attr('stroke', '#aaa').attr('stroke-width', 0.6)

	plot.append('g').selectAll('path').data(reds[i]).enter().append('path')
		.attr('d', (d) => openLine(d))
		.attr('fill', 'none').attr('stroke', '#ab1414').attr('stroke-width', 1.8)
	plot.append('g').selectAll('path').data(blues[i]).enter().append('path')
		.attr('d', (d) => openLine(d))
		.attr('fill', 'none').attr('stroke', '#14145f').attr('stroke-width', 1.8)
		.attr('stroke-dasharray', '7.5 5.5')

	// minor and major ticks on all four sides, labels only bottom and left
	const sides = [
		[d3.axisBottom(x), `translate(0,${panelHeight})`, xMinor, xMajor, true],
		[d3.axisTop(x), 'translate(0,0)', xMinor, xMajor, false],
		[d3.axisLeft(y), 'translate(0,0)', yMinor, yMajor, true],
		[d3.axisRight(y), `translate(${panelWidth},0)`, yMinor, yMajor, false],
	]
	sides.forEach((s) => {
		const minor = g.append('g').attr('transform', s[1])
			.call(s[0].tickValues(s[2]).tickSize(2.5).tickFormat(() => ''))
		const major = g.append('g').attr('transform', s[1])
			.call(s[0].tickValues(s[3]).tickSize(4.5).tickPadding(4).tickFormat((d) => (s[4] ? String(d) : '')))
		minor.selectAll('.domain').remove()
		major.selectAll('.domain').remove()
		minor.selectAll('text').remove()
		minor.selectAll('line').attr('stroke', '#888').attr('stroke-width', 0.7)
		major.selectAll('line').attr('stroke', '#777').attr('stroke-width', 0.8)
		major.selectAll('text').attr('font-size', 17).attr('font-family', "'Liberation Serif', serif").attr('fill', '#111')
		if (!s[4]) major.selectAll('text').remove()
	})

	// frame
	g.append('path')
		.attr('d', `M0,${panelHeight}V0H${panelWidth}`)
		.attr('fill', 'none').attr('stroke', '#111').attr('stroke-width', 1.2)
	g.append('path')
		.attr('d', `M0,${panelHeight}H${panelWidth}`)
		.attr('fill', 'none').attr('stroke', '#111').attr('stroke-width', 1.2)
	g.append('path')
		.attr('d', `M${panelWidth},0V${panelHeight}`)
		.attr('fill', 'none').attr('stroke', '#555').attr('stroke-width', 0.9)

	// axis names
	const xName = g.append('text').attr('x', 132).attr('y', panelHeight + 26)
		.attr('font-size', 22).attr('font-style', 'italic').text('x')
	xName.append('tspan').attr('font-size', 14).attr('dy', 3).text('1')
	const yName = g.append('text').attr('x', -42).attr('y', 122)
		.attr('font-size', 22).attr('font-style', 'italic').text('x')
	yName.append('tspan').attr('font-size', 14).attr('dy', 4).text('2')

	// caption
	const caption = g.append('text')
		.attr('x', panelWidth / 2 - 19).attr('y', panelHeight + 62.5)
		.attr('text-anchor', 'middle').attr('font-size', 23.5).attr('letter-spacing', 1.4)
		.text(`${captionTags[i]} ${captionModes[i]}, `)
	caption.append('tspan').attr('font-style', 'italic').text('t')
	caption.append('tspan').text(` = ${captionTimes[i]}`)
}

d3.range(8).forEach(drawPanel)
</script>
</body>
</html>
